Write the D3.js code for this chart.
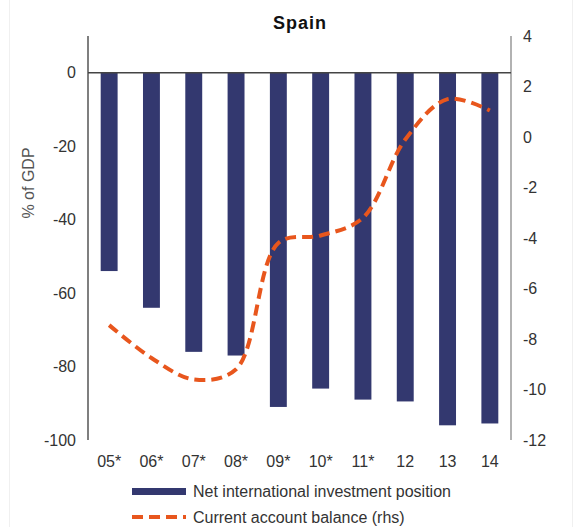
<!DOCTYPE html>
<html>
<head>
<meta charset="utf-8">
<script src="https://cdn.jsdelivr.net/npm/d3@7"></script>
<style>
  body { margin: 0; background: #fff; }
  svg { display: block; }
  .tick text { font-family: "Liberation Sans", Arial, sans-serif; font-size: 16px; fill: #333; }
</style>
</head>
<body>
<svg id="chart" width="579" height="527"></svg>
<script>
// data
var years = ['05*', '06*', '07*', '08*', '09*', '10*', '11*', '12', '13', '14'];
var niip = [-54, -64, -76, -77, -91, -86, -89, -89.5, -96, -95.5];
var currentAccount = [-7.45, -8.75, -9.6, -9.2, -4.2, -3.9, -3.2, -0.1, 1.5, 1.05];
var leftTicks = [0, -20, -40, -60, -80, -100];
var rightTicks = [4, 2, 0, -2, -4, -6, -8, -10, -12];

var barColor = '#33386f';
var lineColor = '#e8561d';

var svg = d3.select('#chart');

var plotLeft = 88, plotRight = 511, plotTop = 36, plotBottom = 440;

var x = d3.scaleBand()
	.domain(years)
	.range([plotLeft, plotRight])
	.paddingInner(0.6)
	.paddingOuter(0.3);

var yL = d3.scaleLinear().domain([-100, 10]).range([plotBottom, plotTop]);
var yR = d3.scaleLinear().domain([-12, 4]).range([plotBottom, plotTop]);

// faint frame
svg.append('rect')
	.attr('x', 9.5).attr('y', -5).attr('width', 563).attr('height', 540)
	.attr('fill', 'none').attr('stroke', '#f0f0f0');

// title
svg.append('text')
	.attr('x', 300).attr('y', 29)
	.attr('text-anchor', 'middle')
	.style('font-family', '"Liberation Sans", Arial, sans-serif')
	.style('font-weight', 'bold')
	.style('font-size', '18px')
	.style('letter-spacing', '1px')
	.attr('fill', '#111')
	.text('Spain');

// bars
svg.append('g')
	.selectAll('rect')
		.data(niip)
	.enter()
	.append('rect')
		.attr('x', (d, i) => x(years[i]))
		.attr('width', x.bandwidth())
		.attr('y', yL(0))
		.attr('height', d => yL(d) - yL(0))
		.attr('fill', barColor);

// left axis
var axL = svg.append('g')
	.attr('transform', 'translate(' + plotLeft + ',0)')
	.call(d3.axisLeft(yL).tickValues(leftTicks).tickFormat(d => String(d)).tickSize(0).tickPadding(12));
axL.select('.domain').remove();
svg.append('line')
	.attr('x1', plotLeft).attr('x2', plotLeft)
	.attr('y1', plotTop).attr('y2', plotBottom)
	.attr('stroke', '#555').attr('stroke-width', 1.5);

// right axis
var axR = svg.append('g')
	.attr('transform', 'translate(' + plotRight + ',0)')
	.call(d3.axisRight(yR).tickValues(rightTicks).tickFormat(d => String(d)).tickSize(0).tickPadding(12));
axR.select('.domain').remove();
svg.append('line')
	.attr('x1', plotRight).attr('x2', plotRight)
	.attr('y1', plotTop).attr('y2', plotBottom)
	.attr('stroke', '#999').attr('stroke-width', 1.5);

// zero line
svg.append('line')
	.attr('x1', plotLeft).attr('x2', plotRight)
	.attr('y1', yL(0)).attr('y2', yL(0))
	.attr('stroke', '#444').attr('stroke-width', 1.5);

// x axis labels
var axX = svg.append('g')
	.attr('transform', 'translate(0,' + (plotBottom + 10) + ')')
	.call(d3.axisBottom(x).tickSize(0).tickPadding(6));
axX.select('.domain').remove();

// y label
svg.append('text')
	.attr('transform', 'translate(34,' + 183 + ') rotate(-90)')
	.attr('text-anchor', 'middle')
	.style('font-family', '"Liberation Sans", Arial, sans-serif')
	.style('font-size', '16px')
	.attr('fill', '#555')
	.text('% of GDP');

// current account line
var line = d3.line()
	.x((d, i) => x(years[i]) + x.bandwidth() / 2)
	.y(d => yR(d))
	.curve(d3.curveCatmullRom.alpha(0.5));

svg.append('path')
	.datum(currentAccount)
	.attr('d', line)
	.attr('fill', 'none')
	.attr('stroke', lineColor)
	.attr('stroke-width', 4)
	.attr('stroke-dasharray', '11,6');

// legend
var legend = svg.append('g')
	.style('font-family', '"Liberation Sans", Arial, sans-serif')
	.style('font-size', '16px');

legend.append('rect')
	.attr('x', 132).attr('y', 488).attr('width', 54).attr('height', 7)
	.attr('fill', barColor);
legend.append('text')
	.attr('x', 193).attr('y', 497)
	.attr('fill', '#333')
	.text('Net international investment position');

legend.append('line')
	.attr('x1', 132).attr('x2', 186).attr('y1', 517).attr('y2', 517)
	.attr('stroke', lineColor).attr('stroke-width', 4)
	.attr('stroke-dasharray', '11,6');
legend.append('text')
	.attr('x', 193).attr('y', 523)
	.attr('fill', '#333')
	.text('Current account balance (rhs)');
</script>
</body>
</html>
